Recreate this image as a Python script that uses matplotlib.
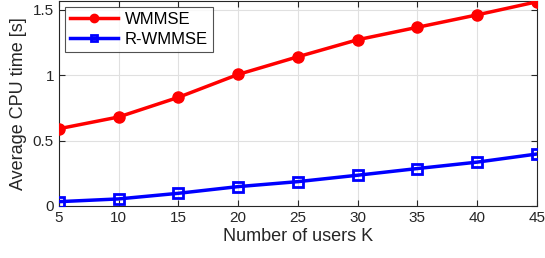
import numpy as np
import matplotlib
matplotlib.use("Agg")
import matplotlib.pyplot as plt

plt.rcParams['font.family'] = ['Liberation Sans', 'DejaVu Sans']

users = [5, 10, 15, 20, 25, 30, 35, 40, 45]
wmmse = [0.59, 0.68, 0.83, 1.005, 1.14, 1.27, 1.365, 1.46, 1.56]
r_wmmse = [0.033, 0.054, 0.097, 0.148, 0.186, 0.235, 0.286, 0.335, 0.397]

fig = plt.figure(figsize=(5.45, 2.58), dpi=100)
ax = fig.add_axes([0.108, 0.2016, 0.877, 0.794])

ax.plot(users, wmmse, color='#ff0000', lw=2.5, marker='o', ms=8,
        label='WMMSE', zorder=3)
ax.plot(users, r_wmmse, color='#0000ff', lw=2.5, marker='s', ms=6.5,
        mfc='none', mew=2, label='R-WMMSE', zorder=3)

ax.set_xlim(5, 45)
ax.set_ylim(0, 1.565)
ax.set_xticks(users)
ax.set_yticks([0, 0.5, 1, 1.5])
ax.set_yticklabels(['0', '0.5', '1', '1.5'])
ax.grid(True, color='#e0e0e0', lw=0.8)
ax.set_axisbelow(True)
ax.tick_params(direction='in', top=True, right=True, labelsize=11,
               colors='#262626', length=4)
for s in ax.spines.values():
    s.set_color('#262626')
    s.set_linewidth(0.8)

ax.set_xlabel('Number of users K', fontsize=13, color='#262626', labelpad=2)
ax.set_ylabel('Average CPU time [s]', fontsize=13, color='#262626', labelpad=4)

leg = ax.legend(loc='upper left', fontsize=12, frameon=True, fancybox=False,
                edgecolor='#262626', handlelength=2.9, borderpad=0.3,
                labelspacing=0.3, handletextpad=0.4, markerscale=0.75,
                borderaxespad=0, bbox_to_anchor=(0.0126, 0.97))
leg.get_frame().set_linewidth(0.8)

fig.savefig('out.png', dpi=100)
